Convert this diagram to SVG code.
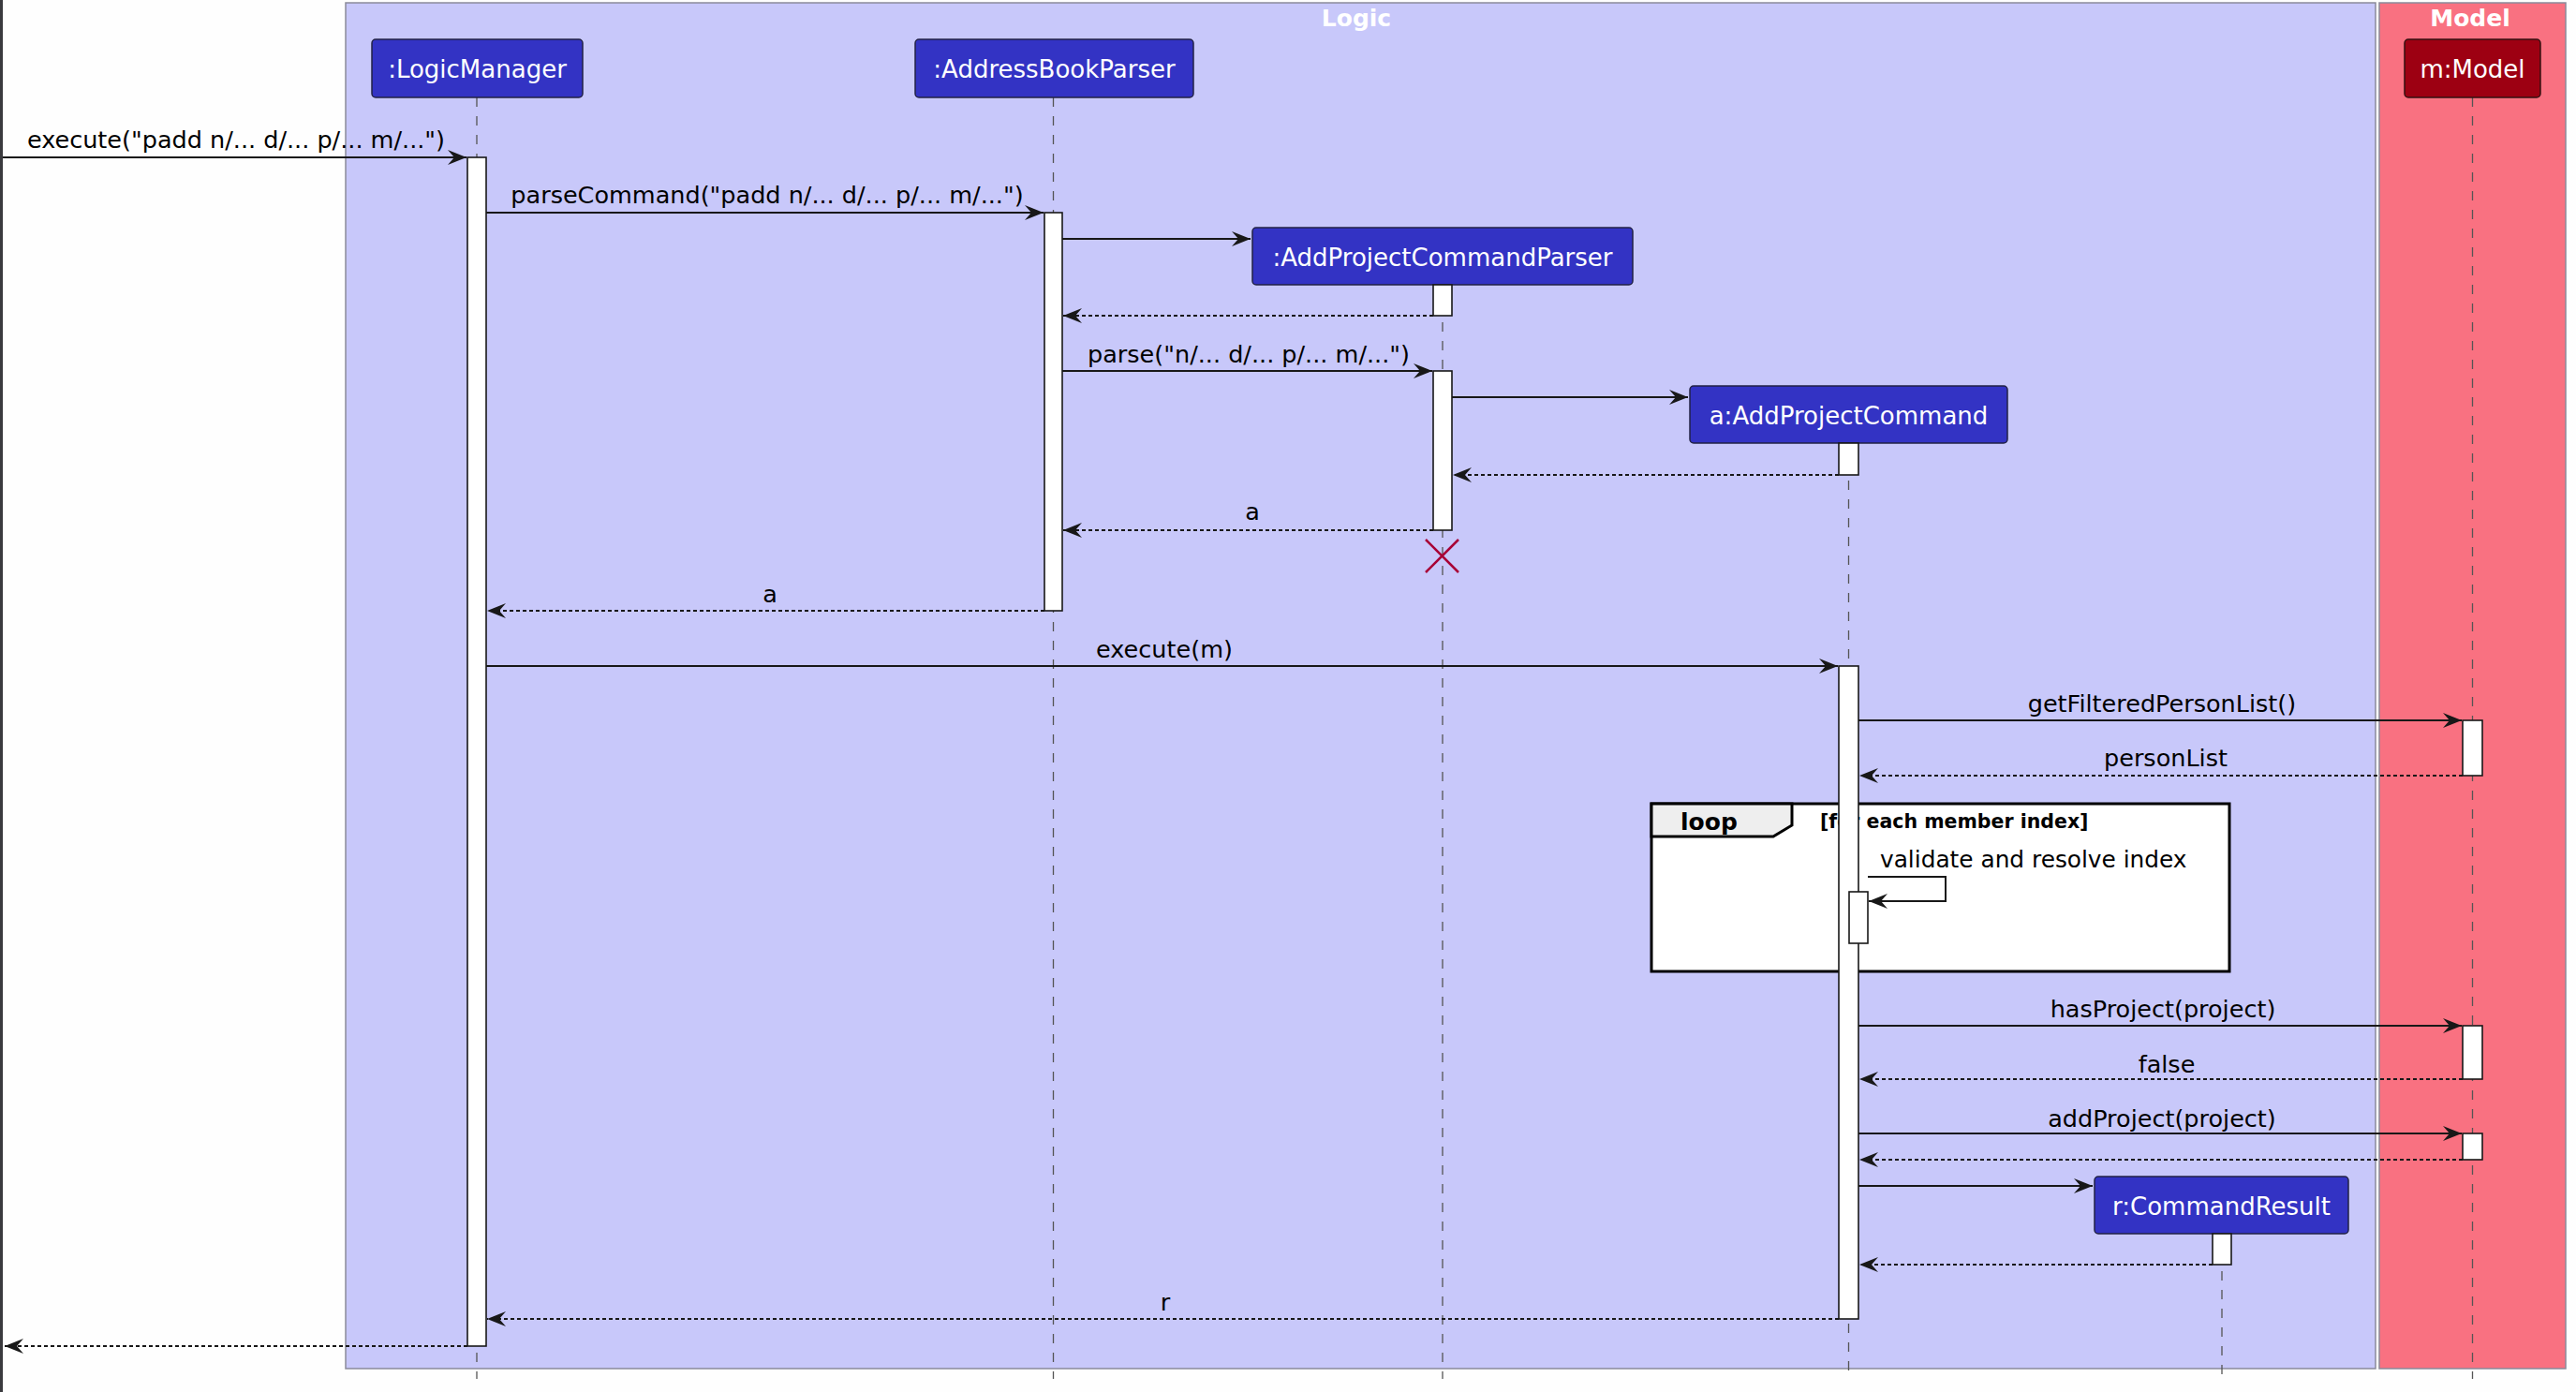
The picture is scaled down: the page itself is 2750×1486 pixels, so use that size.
<svg xmlns="http://www.w3.org/2000/svg" width="2750" height="1486" viewBox="0 0 2750 1486">
<style>
.bg{fill:#FEFEFE}
.logicbox{fill:#C8C8FA;stroke:#8A8A9A;stroke-width:1.5}
.modelbox{fill:#F97181;stroke:#8A8A9A;stroke-width:1.5}
.boxtitle{font-family:"DejaVu Sans","Liberation Sans",sans-serif;font-size:25px;font-weight:bold;fill:#FFFFFF;text-anchor:middle}
.life{stroke:#555555;stroke-width:1.3;stroke-dasharray:10,10;fill:none}
.pl{fill:#3333C4;stroke:#222244;stroke-width:1.5}
.pm{fill:#9D0012;stroke:#331111;stroke-width:1.5}
.ptxt{font-family:"DejaVu Sans","Liberation Sans",sans-serif;font-size:26px;fill:#FFFFFF;text-anchor:middle}
.act{fill:#FFFFFF;stroke:#181818;stroke-width:1.6}
.msg{stroke:#181818;stroke-width:2;fill:none}
.ret{stroke:#181818;stroke-width:2;stroke-dasharray:4,3;fill:none}
.mtxt{font-family:"DejaVu Sans","Liberation Sans",sans-serif;font-size:25.5px;fill:#000000;text-anchor:middle}
.ltxt{font-family:"DejaVu Sans","Liberation Sans",sans-serif;font-size:24.8px;fill:#000000}
.frame{fill:#FFFFFF;stroke:#000000;stroke-width:3}
.tab{fill:#EEEEEE;stroke:#000000;stroke-width:3}
.ftxt{font-family:"DejaVu Sans","Liberation Sans",sans-serif;font-weight:bold;fill:#000000}
.destroy{stroke:#A80036;stroke-width:2.5;fill:none}
</style>
<defs>
<marker id="ah" viewBox="0 0 20 16" refX="20" refY="8" markerWidth="20" markerHeight="16" orient="auto" markerUnits="userSpaceOnUse">
<path d="M0,0 L20,8 L0,16 L7,8 Z" fill="#181818" stroke="none"/>
</marker>
</defs>
<rect class="bg" x="0" y="0" width="2750" height="1486"/>
<rect x="0" y="0" width="3" height="1486" fill="#3A3A3E"/>

<g id="box-logic">
<rect class="logicbox" x="369" y="3" width="2167" height="1458"/>
<text class="boxtitle" x="1448" y="28">Logic</text>
</g>
<g id="box-model">
<rect class="modelbox" x="2540" y="3" width="199" height="1458"/>
<text class="boxtitle" x="2637" y="28">Model</text>
</g>

<g id="lifelines">
<line class="life" x1="509" y1="104" x2="509" y2="1472"/>
<line class="life" x1="1124.5" y1="104" x2="1124.5" y2="1472"/>
<line class="life" x1="1540" y1="304" x2="1540" y2="1472"/>
<line class="life" x1="1973.5" y1="473" x2="1973.5" y2="1472"/>
<line class="life" x1="2372" y1="1317" x2="2372" y2="1472"/>
<line class="life" x1="2639.5" y1="104" x2="2639.5" y2="1472"/>
</g>

<g id="LogicManager">
<rect class="pl" x="397" y="42" width="225" height="62" rx="4"/>
<text class="ptxt" x="509.5" y="83">:LogicManager</text>
</g>
<g id="AddressBookParser">
<rect class="pl" x="977" y="42" width="297" height="62" rx="4"/>
<text class="ptxt" x="1125.5" y="83">:AddressBookParser</text>
</g>
<g id="AddProjectCommandParser">
<rect class="pl" x="1337" y="243" width="406" height="61" rx="4"/>
<text class="ptxt" x="1540" y="284">:AddProjectCommandParser</text>
</g>
<g id="AddProjectCommand">
<rect class="pl" x="1804" y="412" width="339" height="61" rx="4"/>
<text class="ptxt" x="1973.5" y="453">a:AddProjectCommand</text>
</g>
<g id="CommandResult">
<rect class="pl" x="2236" y="1256" width="271" height="61" rx="4"/>
<text class="ptxt" x="2371.5" y="1297">r:CommandResult</text>
</g>
<g id="Model">
<rect class="pm" x="2567" y="42" width="145" height="62" rx="4"/>
<text class="ptxt" x="2639.5" y="83">m:Model</text>
</g>

<g id="loop-frame">
<rect class="frame" x="1763" y="858" width="617" height="179"/>
<path class="tab" d="M1763,858 H1913 V881 L1893,893 H1763 Z"/>
<text class="ftxt" x="1794" y="886" font-size="25">loop</text>
<text class="ftxt" x="1943" y="884" font-size="20.5">[for each member index]</text>
</g>

<g id="activations">
<rect class="act" x="499" y="168" width="20" height="1269"/>
<rect class="act" x="1115" y="227" width="19" height="425"/>
<rect class="act" x="1530" y="304" width="20" height="33"/>
<rect class="act" x="1530" y="396" width="20" height="170"/>
<rect class="act" x="1963" y="473" width="21" height="34"/>
<rect class="act" x="1963" y="711" width="21" height="697"/>
<rect class="act" x="1974" y="952" width="20" height="55"/>
<rect class="act" x="2629" y="769" width="21" height="59"/>
<rect class="act" x="2629" y="1095" width="21" height="57"/>
<rect class="act" x="2629" y="1210" width="21" height="28"/>
<rect class="act" x="2362" y="1317" width="20" height="33"/>
</g>

<g id="destroy">
<path class="destroy" d="M1522,576 L1557,611 M1557,576 L1522,611"/>
</g>

<g id="connectors">
<line class="msg" x1="3" y1="168" x2="498" y2="168" marker-end="url(#ah)"/>
<text class="mtxt" x="252" y="158">execute("padd n/... d/... p/... m/...")</text>
<line class="msg" x1="519" y1="227" x2="1114" y2="227" marker-end="url(#ah)"/>
<text class="mtxt" x="819" y="217">parseCommand("padd n/... d/... p/... m/...")</text>
<line class="msg" x1="1134" y1="255" x2="1335" y2="255" marker-end="url(#ah)"/>
<line class="ret" x1="1530" y1="337" x2="1135" y2="337" marker-end="url(#ah)"/>
<line class="msg" x1="1134" y1="396" x2="1529" y2="396" marker-end="url(#ah)"/>
<text class="mtxt" x="1333" y="387">parse("n/... d/... p/... m/...")</text>
<line class="msg" x1="1550" y1="424" x2="1802" y2="424" marker-end="url(#ah)"/>
<line class="ret" x1="1963" y1="507" x2="1551" y2="507" marker-end="url(#ah)"/>
<line class="ret" x1="1530" y1="566" x2="1135" y2="566" marker-end="url(#ah)"/>
<text class="mtxt" x="1337" y="555">a</text>
<line class="ret" x1="1115" y1="652" x2="520" y2="652" marker-end="url(#ah)"/>
<text class="mtxt" x="822" y="643">a</text>
<line class="msg" x1="519" y1="711" x2="1962" y2="711" marker-end="url(#ah)"/>
<text class="mtxt" x="1243" y="702">execute(m)</text>
<line class="msg" x1="1984" y1="769" x2="2628" y2="769" marker-end="url(#ah)"/>
<text class="mtxt" x="2308" y="760">getFilteredPersonList()</text>
<line class="ret" x1="2629" y1="828" x2="1985" y2="828" marker-end="url(#ah)"/>
<text class="mtxt" x="2312" y="818">personList</text>
<path class="msg" d="M1994,936 H2077 V962 H1995" marker-end="url(#ah)"/>
<text class="ltxt" x="2007" y="926">validate and resolve index</text>
<line class="msg" x1="1984" y1="1095" x2="2628" y2="1095" marker-end="url(#ah)"/>
<text class="mtxt" x="2309" y="1086">hasProject(project)</text>
<line class="ret" x1="2629" y1="1152" x2="1985" y2="1152" marker-end="url(#ah)"/>
<text class="mtxt" x="2313" y="1145">false</text>
<line class="msg" x1="1984" y1="1210" x2="2628" y2="1210" marker-end="url(#ah)"/>
<text class="mtxt" x="2308" y="1203">addProject(project)</text>
<line class="ret" x1="2629" y1="1238" x2="1985" y2="1238" marker-end="url(#ah)"/>
<line class="msg" x1="1984" y1="1266" x2="2234" y2="1266" marker-end="url(#ah)"/>
<line class="ret" x1="2362" y1="1350" x2="1985" y2="1350" marker-end="url(#ah)"/>
<line class="ret" x1="1963" y1="1408" x2="520" y2="1408" marker-end="url(#ah)"/>
<text class="mtxt" x="1244" y="1399">r</text>
<line class="ret" x1="499" y1="1437" x2="5" y2="1437" marker-end="url(#ah)"/>
</g>
</svg>
